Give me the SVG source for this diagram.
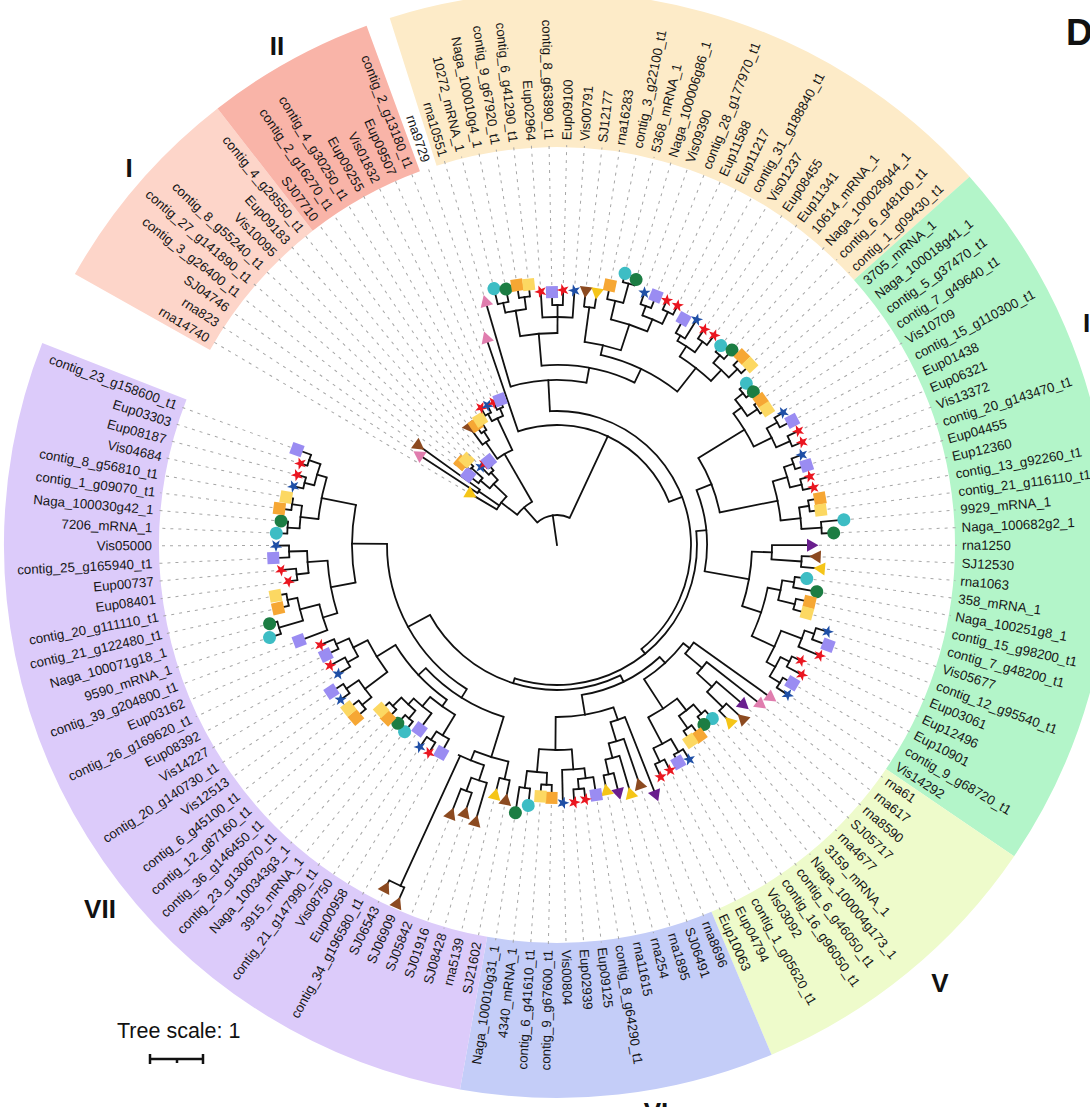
<svg xmlns="http://www.w3.org/2000/svg" xmlns:xlink="http://www.w3.org/1999/xlink" width="1090" height="1107" viewBox="0 0 1090 1107">
<style>
.t{font-family:"Liberation Sans",Arial,sans-serif;font-size:13.3px;fill:#161616;dominant-baseline:central}
.f{text-anchor:end}
.d{stroke:#a6a6a6;stroke-width:1;stroke-dasharray:3 5}
#connectors line,#connectors circle{stroke:#111;stroke-width:1.8;fill:none}
#connectors line{stroke-linecap:square}
.cy{fill:#3dbdc4}.gn{fill:#1c7d43}.or{fill:#f6a734}.ye{fill:#fcd862}.lv{fill:#9a8cf2}
.rs{fill:#ea1620}.bs{fill:#1f4fa6}.bt{fill:#8c4a20}.yt{fill:#f5c518}.pt{fill:#6a1f8e}.kt{fill:#e07dae}
.cl{font-family:"Liberation Sans",Arial,sans-serif;font-weight:bold;font-size:26px;fill:#111;text-anchor:middle}
</style>
<defs>
<circle id="ci" r="6.5"/>
<rect id="sq" x="-6" y="-6" width="12" height="12"/>
<polygon id="st" points="0,-6.5 1.53,-2.1 6.18,-2.01 2.47,0.8 3.82,5.26 0,2.6 -3.82,5.26 -2.47,0.8 -6.18,-2.01 -1.53,-2.1"/>
<polygon id="to" points="6.5,0 -5,-6.5 -5,6.5"/>
<polygon id="ti" points="-6.5,0 5,-6.5 5,6.5"/>
</defs>
<rect width="1090" height="1107" fill="#fff"/>
<g id="clade-bands" transform="translate(557 545)" fill="none" stroke-width="155">
<circle r="475.5" stroke="#fdd5c9" stroke-dasharray="189.22 4000" transform="rotate(209.33)"/>
<circle r="475.5" stroke="#f9b4a8" stroke-dasharray="147.14 4000" transform="rotate(232.13)"/>
<circle r="475.5" stroke="#fdebc8" stroke-dasharray="546.58 4000" transform="rotate(252.39)"/>
<circle r="475.5" stroke="#b3f5c9" stroke-dasharray="630.65 4000" transform="rotate(318.25)"/>
<circle r="475.5" stroke="#eefbcb" stroke-dasharray="273.29 4000" transform="rotate(394.24)"/>
<circle r="475.5" stroke="#c4cdf8" stroke-dasharray="273.29 4000" transform="rotate(427.17)"/>
<circle r="475.5" stroke="#dccbfa" stroke-dasharray="840.87 4000" transform="rotate(460.1)"/>
</g>
<g id="connectors" transform="translate(557 545)">
<line x1="0" x2="30" transform="rotate(261.84)"/>
<circle r="95" stroke-dasharray="4.2 9999" transform="rotate(213.13)"/>
<circle r="115" stroke-dasharray="5.08 9999" transform="rotate(220.73)"/>
<circle r="100" stroke-dasharray="6.63 9999" transform="rotate(218.2)"/>
<circle r="103" stroke-dasharray="4.55 9999" transform="rotate(228.33)"/>
<circle r="98" stroke-dasharray="6.5 9999" transform="rotate(225.8)"/>
<circle r="88" stroke-dasharray="11.67 9999" transform="rotate(220.1)"/>
<circle r="70" stroke-dasharray="16.25 9999" transform="rotate(210.6)"/>
<circle r="135" stroke-dasharray="5.97 9999" transform="rotate(235.93)"/>
<circle r="125" stroke-dasharray="8.29 9999" transform="rotate(233.4)"/>
<circle r="148" stroke-dasharray="6.54 9999" transform="rotate(241)"/>
<circle r="148" stroke-dasharray="6.54 9999" transform="rotate(246.06)"/>
<circle r="140" stroke-dasharray="12.38 9999" transform="rotate(242.26)"/>
<circle r="105" stroke-dasharray="17.41 9999" transform="rotate(235.3)"/>
<circle r="50" stroke-dasharray="19.89 9999" transform="rotate(217.25)"/>
<circle r="248" stroke-dasharray="10.96 9999" transform="rotate(256.19)"/>
<circle r="250" stroke-dasharray="11.05 9999" transform="rotate(261.26)"/>
<circle r="238" stroke-dasharray="21.04 9999" transform="rotate(257.46)"/>
<circle r="240" stroke-dasharray="10.61 9999" transform="rotate(268.86)"/>
<circle r="228" stroke-dasharray="30.24 9999" transform="rotate(266.33)"/>
<circle r="212" stroke-dasharray="37.49 9999" transform="rotate(259.99)"/>
<circle r="240" stroke-dasharray="10.61 9999" transform="rotate(276.46)"/>
<circle r="271" stroke-dasharray="11.98 9999" transform="rotate(284.06)"/>
<circle r="251" stroke-dasharray="16.65 9999" transform="rotate(281.52)"/>
<circle r="255" stroke-dasharray="11.27 9999" transform="rotate(289.12)"/>
<circle r="258" stroke-dasharray="11.41 9999" transform="rotate(294.19)"/>
<circle r="245" stroke-dasharray="21.66 9999" transform="rotate(290.39)"/>
<circle r="232" stroke-dasharray="38.46 9999" transform="rotate(283.42)"/>
<circle r="205" stroke-dasharray="37.38 9999" transform="rotate(277.73)"/>
<circle r="243" stroke-dasharray="10.74 9999" transform="rotate(299.26)"/>
<circle r="250" stroke-dasharray="11.05 9999" transform="rotate(304.32)"/>
<circle r="237" stroke-dasharray="20.96 9999" transform="rotate(300.52)"/>
<circle r="250" stroke-dasharray="11.05 9999" transform="rotate(309.39)"/>
<circle r="252" stroke-dasharray="11.14 9999" transform="rotate(314.45)"/>
<circle r="240" stroke-dasharray="21.22 9999" transform="rotate(310.65)"/>
<circle r="225" stroke-dasharray="39.79 9999" transform="rotate(303.06)"/>
<circle r="195" stroke-dasharray="85.67 9999" transform="rotate(282.95)"/>
<circle r="180" stroke-dasharray="95.73 9999" transform="rotate(265.06)"/>
<circle r="165" stroke-dasharray="76.71 9999" transform="rotate(253.66)"/>
<circle r="240" stroke-dasharray="10.61 9999" transform="rotate(319.52)"/>
<circle r="242" stroke-dasharray="10.7 9999" transform="rotate(324.59)"/>
<circle r="230" stroke-dasharray="20.34 9999" transform="rotate(320.79)"/>
<circle r="252" stroke-dasharray="11.14 9999" transform="rotate(329.65)"/>
<circle r="255" stroke-dasharray="11.27 9999" transform="rotate(334.72)"/>
<circle r="240" stroke-dasharray="21.22 9999" transform="rotate(330.92)"/>
<circle r="220" stroke-dasharray="38.9 9999" transform="rotate(323.32)"/>
<circle r="250" stroke-dasharray="11.05 9999" transform="rotate(339.78)"/>
<circle r="252" stroke-dasharray="11.14 9999" transform="rotate(344.85)"/>
<circle r="240" stroke-dasharray="21.22 9999" transform="rotate(341.05)"/>
<circle r="255" stroke-dasharray="11.27 9999" transform="rotate(349.92)"/>
<circle r="265" stroke-dasharray="11.72 9999" transform="rotate(354.98)"/>
<circle r="245" stroke-dasharray="21.66 9999" transform="rotate(351.18)"/>
<circle r="225" stroke-dasharray="39.79 9999" transform="rotate(343.58)"/>
<circle r="166" stroke-dasharray="58.71 9999" transform="rotate(328.39)"/>
<circle r="245" stroke-dasharray="10.83 9999" transform="rotate(362.58)"/>
<circle r="215" stroke-dasharray="14.26 9999" transform="rotate(360.05)"/>
<circle r="240" stroke-dasharray="10.61 9999" transform="rotate(367.65)"/>
<circle r="245" stroke-dasharray="10.83 9999" transform="rotate(372.71)"/>
<circle r="228" stroke-dasharray="20.16 9999" transform="rotate(368.91)"/>
<circle r="272" stroke-dasharray="12.02 9999" transform="rotate(377.78)"/>
<circle r="262" stroke-dasharray="17.38 9999" transform="rotate(379.05)"/>
<circle r="260" stroke-dasharray="11.49 9999" transform="rotate(385.38)"/>
<circle r="262" stroke-dasharray="11.58 9999" transform="rotate(390.44)"/>
<circle r="250" stroke-dasharray="22.1 9999" transform="rotate(386.64)"/>
<circle r="240" stroke-dasharray="34.48 9999" transform="rotate(380.94)"/>
<circle r="215" stroke-dasharray="51.09 9999" transform="rotate(371.45)"/>
<circle r="195" stroke-dasharray="55.49 9999" transform="rotate(361.95)"/>
<circle r="150" stroke-dasharray="82.69 9999" transform="rotate(338.52)"/>
<circle r="232" stroke-dasharray="10.26 9999" transform="rotate(403.11)"/>
<circle r="210" stroke-dasharray="13.93 9999" transform="rotate(400.58)"/>
<circle r="190" stroke-dasharray="14.7 9999" transform="rotate(398.04)"/>
<circle r="168" stroke-dasharray="13.93 9999" transform="rotate(395.51)"/>
<circle r="222" stroke-dasharray="9.81 9999" transform="rotate(408.17)"/>
<circle r="225" stroke-dasharray="9.95 9999" transform="rotate(413.24)"/>
<circle r="210" stroke-dasharray="18.57 9999" transform="rotate(409.44)"/>
<circle r="240" stroke-dasharray="10.61 9999" transform="rotate(418.31)"/>
<circle r="240" stroke-dasharray="10.61 9999" transform="rotate(423.37)"/>
<circle r="225" stroke-dasharray="19.89 9999" transform="rotate(419.57)"/>
<circle r="195" stroke-dasharray="34.48 9999" transform="rotate(411.97)"/>
<circle r="160" stroke-dasharray="53.49 9999" transform="rotate(397.88)"/>
<circle r="235" stroke-dasharray="10.39 9999" transform="rotate(436.04)"/>
<circle r="220" stroke-dasharray="14.59 9999" transform="rotate(433.5)"/>
<circle r="205" stroke-dasharray="15.86 9999" transform="rotate(430.97)"/>
<circle r="185" stroke-dasharray="15.33 9999" transform="rotate(428.44)"/>
<circle r="245" stroke-dasharray="10.83 9999" transform="rotate(443.64)"/>
<circle r="235" stroke-dasharray="15.59 9999" transform="rotate(441.1)"/>
<circle r="225" stroke-dasharray="22.38 9999" transform="rotate(443)"/>
<circle r="240" stroke-dasharray="10.61 9999" transform="rotate(451.24)"/>
<circle r="245" stroke-dasharray="10.83 9999" transform="rotate(456.3)"/>
<circle r="228" stroke-dasharray="20.16 9999" transform="rotate(452.5)"/>
<circle r="205" stroke-dasharray="32.85 9999" transform="rotate(445.85)"/>
<circle r="172" stroke-dasharray="58.93 9999" transform="rotate(430.81)"/>
<circle r="152" stroke-dasharray="87.98 9999" transform="rotate(407.46)"/>
<circle r="240" stroke-dasharray="10.61 9999" transform="rotate(461.37)"/>
<circle r="262" stroke-dasharray="11.58 9999" transform="rotate(468.97)"/>
<circle r="248" stroke-dasharray="16.45 9999" transform="rotate(466.43)"/>
<circle r="375" stroke-dasharray="16.58 9999" transform="rotate(474.03)"/>
<circle r="232" stroke-dasharray="28.21 9999" transform="rotate(468.33)"/>
<circle r="222" stroke-dasharray="35.58 9999" transform="rotate(462.63)"/>
<circle r="232" stroke-dasharray="10.26 9999" transform="rotate(481.63)"/>
<circle r="222" stroke-dasharray="14.72 9999" transform="rotate(479.1)"/>
<circle r="228" stroke-dasharray="10.08 9999" transform="rotate(489.23)"/>
<circle r="230" stroke-dasharray="10.17 9999" transform="rotate(494.3)"/>
<circle r="218" stroke-dasharray="19.28 9999" transform="rotate(490.5)"/>
<circle r="210" stroke-dasharray="23.21 9999" transform="rotate(486.7)"/>
<circle r="198" stroke-dasharray="30.64 9999" transform="rotate(481)"/>
<circle r="252" stroke-dasharray="11.14 9999" transform="rotate(499.36)"/>
<circle r="255" stroke-dasharray="11.27 9999" transform="rotate(504.43)"/>
<circle r="240" stroke-dasharray="21.22 9999" transform="rotate(500.63)"/>
<circle r="240" stroke-dasharray="10.61 9999" transform="rotate(509.49)"/>
<circle r="242" stroke-dasharray="10.7 9999" transform="rotate(514.56)"/>
<circle r="228" stroke-dasharray="20.16 9999" transform="rotate(510.76)"/>
<circle r="212" stroke-dasharray="37.49 9999" transform="rotate(503.16)"/>
<circle r="190" stroke-dasharray="75.6 9999" transform="rotate(485.43)"/>
<circle r="180" stroke-dasharray="93 9999" transform="rotate(467.23)"/>
<circle r="290" stroke-dasharray="12.82 9999" transform="rotate(522.16)"/>
<circle r="275" stroke-dasharray="12.16 9999" transform="rotate(527.23)"/>
<circle r="265" stroke-dasharray="23.43 9999" transform="rotate(523.43)"/>
<circle r="245" stroke-dasharray="27.08 9999" transform="rotate(519.63)"/>
<circle r="262" stroke-dasharray="11.58 9999" transform="rotate(532.29)"/>
<circle r="268" stroke-dasharray="11.85 9999" transform="rotate(537.36)"/>
<circle r="250" stroke-dasharray="22.1 9999" transform="rotate(533.56)"/>
<circle r="230" stroke-dasharray="53.38 9999" transform="rotate(522.79)"/>
<circle r="270" stroke-dasharray="11.94 9999" transform="rotate(542.42)"/>
<circle r="268" stroke-dasharray="11.85 9999" transform="rotate(547.49)"/>
<circle r="258" stroke-dasharray="22.81 9999" transform="rotate(543.69)"/>
<circle r="260" stroke-dasharray="11.49 9999" transform="rotate(552.56)"/>
<circle r="262" stroke-dasharray="11.58 9999" transform="rotate(557.62)"/>
<circle r="250" stroke-dasharray="22.1 9999" transform="rotate(553.82)"/>
<circle r="240" stroke-dasharray="42.44 9999" transform="rotate(546.22)"/>
<circle r="205" stroke-dasharray="78.17 9999" transform="rotate(529.44)"/>
<circle r="170" stroke-dasharray="173.09 9999" transform="rotate(482.03)"/>
<circle r="145" stroke-dasharray="220.55 9999" transform="rotate(424.05)"/>
<circle r="140" stroke-dasharray="276.88 9999" transform="rotate(354.31)"/>
<circle r="134" stroke-dasharray="336.73 9999" transform="rotate(266.98)"/>
<circle r="120" stroke-dasharray="183.97 9999" transform="rotate(251.13)"/>
<circle r="30" stroke-dasharray="34.77 9999" transform="rotate(228.65)"/>
<line x1="70" x2="95" transform="rotate(214.4)"/>
<line x1="100" x2="115" transform="rotate(222)"/>
<line x1="88" x2="100" transform="rotate(220.1)"/>
<line x1="98" x2="103" transform="rotate(229.6)"/>
<line x1="88" x2="98" transform="rotate(227.7)"/>
<line x1="70" x2="88" transform="rotate(223.9)"/>
<line x1="50" x2="70" transform="rotate(217.25)"/>
<line x1="125" x2="135" transform="rotate(237.2)"/>
<line x1="105" x2="125" transform="rotate(235.3)"/>
<line x1="140" x2="148" transform="rotate(242.26)"/>
<line x1="140" x2="148" transform="rotate(247.33)"/>
<line x1="105" x2="140" transform="rotate(244.8)"/>
<line x1="50" x2="105" transform="rotate(240.05)"/>
<line x1="30" x2="50" transform="rotate(228.65)"/>
<line x1="238" x2="248" transform="rotate(257.46)"/>
<line x1="238" x2="250" transform="rotate(262.53)"/>
<line x1="212" x2="238" transform="rotate(259.99)"/>
<line x1="228" x2="240" transform="rotate(270.13)"/>
<line x1="212" x2="228" transform="rotate(270.13)"/>
<line x1="180" x2="212" transform="rotate(265.06)"/>
<line x1="205" x2="240" transform="rotate(277.73)"/>
<line x1="251" x2="271" transform="rotate(285.32)"/>
<line x1="232" x2="251" transform="rotate(283.42)"/>
<line x1="245" x2="255" transform="rotate(290.39)"/>
<line x1="245" x2="258" transform="rotate(295.46)"/>
<line x1="232" x2="245" transform="rotate(292.92)"/>
<line x1="205" x2="232" transform="rotate(288.17)"/>
<line x1="195" x2="205" transform="rotate(282.95)"/>
<line x1="237" x2="243" transform="rotate(300.52)"/>
<line x1="237" x2="250" transform="rotate(305.59)"/>
<line x1="225" x2="237" transform="rotate(303.06)"/>
<line x1="240" x2="250" transform="rotate(310.65)"/>
<line x1="240" x2="252" transform="rotate(315.72)"/>
<line x1="225" x2="240" transform="rotate(313.19)"/>
<line x1="195" x2="225" transform="rotate(308.12)"/>
<line x1="180" x2="195" transform="rotate(295.53)"/>
<line x1="165" x2="180" transform="rotate(280.3)"/>
<line x1="134" x2="165" transform="rotate(266.98)"/>
<line x1="230" x2="240" transform="rotate(320.79)"/>
<line x1="230" x2="242" transform="rotate(325.85)"/>
<line x1="220" x2="230" transform="rotate(323.32)"/>
<line x1="240" x2="252" transform="rotate(330.92)"/>
<line x1="240" x2="255" transform="rotate(335.98)"/>
<line x1="220" x2="240" transform="rotate(333.45)"/>
<line x1="166" x2="220" transform="rotate(328.39)"/>
<line x1="240" x2="250" transform="rotate(341.05)"/>
<line x1="240" x2="252" transform="rotate(346.12)"/>
<line x1="225" x2="240" transform="rotate(343.58)"/>
<line x1="245" x2="255" transform="rotate(351.18)"/>
<line x1="245" x2="265" transform="rotate(356.25)"/>
<line x1="225" x2="245" transform="rotate(353.72)"/>
<line x1="166" x2="225" transform="rotate(348.65)"/>
<line x1="150" x2="166" transform="rotate(338.52)"/>
<line x1="215" x2="245" transform="rotate(363.85)"/>
<line x1="195" x2="215" transform="rotate(361.95)"/>
<line x1="228" x2="240" transform="rotate(368.91)"/>
<line x1="228" x2="245" transform="rotate(373.98)"/>
<line x1="215" x2="228" transform="rotate(371.45)"/>
<line x1="262" x2="272" transform="rotate(379.05)"/>
<line x1="240" x2="262" transform="rotate(380.94)"/>
<line x1="250" x2="260" transform="rotate(386.64)"/>
<line x1="250" x2="262" transform="rotate(391.71)"/>
<line x1="240" x2="250" transform="rotate(389.18)"/>
<line x1="215" x2="240" transform="rotate(385.06)"/>
<line x1="195" x2="215" transform="rotate(378.25)"/>
<line x1="150" x2="195" transform="rotate(370.1)"/>
<line x1="140" x2="150" transform="rotate(354.31)"/>
<line x1="210" x2="232" transform="rotate(404.38)"/>
<line x1="190" x2="210" transform="rotate(402.48)"/>
<line x1="168" x2="190" transform="rotate(400.26)"/>
<line x1="160" x2="168" transform="rotate(397.88)"/>
<line x1="210" x2="222" transform="rotate(409.44)"/>
<line x1="210" x2="225" transform="rotate(414.51)"/>
<line x1="195" x2="210" transform="rotate(411.97)"/>
<line x1="225" x2="240" transform="rotate(419.57)"/>
<line x1="225" x2="240" transform="rotate(424.64)"/>
<line x1="195" x2="225" transform="rotate(422.11)"/>
<line x1="160" x2="195" transform="rotate(417.04)"/>
<line x1="152" x2="160" transform="rotate(407.46)"/>
<line x1="220" x2="235" transform="rotate(437.3)"/>
<line x1="205" x2="220" transform="rotate(435.4)"/>
<line x1="185" x2="205" transform="rotate(433.19)"/>
<line x1="172" x2="185" transform="rotate(430.81)"/>
<line x1="235" x2="245" transform="rotate(444.9)"/>
<line x1="225" x2="235" transform="rotate(443)"/>
<line x1="205" x2="225" transform="rotate(445.85)"/>
<line x1="228" x2="240" transform="rotate(452.5)"/>
<line x1="228" x2="245" transform="rotate(457.57)"/>
<line x1="205" x2="228" transform="rotate(455.04)"/>
<line x1="172" x2="205" transform="rotate(450.44)"/>
<line x1="152" x2="172" transform="rotate(440.63)"/>
<line x1="145" x2="152" transform="rotate(424.05)"/>
<line x1="222" x2="240" transform="rotate(462.63)"/>
<line x1="248" x2="262" transform="rotate(470.23)"/>
<line x1="232" x2="248" transform="rotate(468.33)"/>
<line x1="232" x2="375" transform="rotate(474.67)"/>
<line x1="222" x2="232" transform="rotate(471.82)"/>
<line x1="180" x2="222" transform="rotate(467.23)"/>
<line x1="222" x2="232" transform="rotate(482.9)"/>
<line x1="198" x2="222" transform="rotate(481)"/>
<line x1="218" x2="228" transform="rotate(490.5)"/>
<line x1="218" x2="230" transform="rotate(495.56)"/>
<line x1="210" x2="218" transform="rotate(493.03)"/>
<line x1="198" x2="210" transform="rotate(489.86)"/>
<line x1="190" x2="198" transform="rotate(485.43)"/>
<line x1="240" x2="252" transform="rotate(500.63)"/>
<line x1="240" x2="255" transform="rotate(505.7)"/>
<line x1="212" x2="240" transform="rotate(503.16)"/>
<line x1="228" x2="240" transform="rotate(510.76)"/>
<line x1="228" x2="242" transform="rotate(515.83)"/>
<line x1="212" x2="228" transform="rotate(513.29)"/>
<line x1="190" x2="212" transform="rotate(508.23)"/>
<line x1="180" x2="190" transform="rotate(496.83)"/>
<line x1="170" x2="180" transform="rotate(482.03)"/>
<line x1="265" x2="290" transform="rotate(523.43)"/>
<line x1="265" x2="275" transform="rotate(528.49)"/>
<line x1="245" x2="265" transform="rotate(525.96)"/>
<line x1="230" x2="245" transform="rotate(522.79)"/>
<line x1="250" x2="262" transform="rotate(533.56)"/>
<line x1="250" x2="268" transform="rotate(538.62)"/>
<line x1="230" x2="250" transform="rotate(536.09)"/>
<line x1="205" x2="230" transform="rotate(529.44)"/>
<line x1="258" x2="270" transform="rotate(543.69)"/>
<line x1="258" x2="268" transform="rotate(548.76)"/>
<line x1="240" x2="258" transform="rotate(546.22)"/>
<line x1="250" x2="260" transform="rotate(553.82)"/>
<line x1="250" x2="262" transform="rotate(558.89)"/>
<line x1="240" x2="250" transform="rotate(556.36)"/>
<line x1="205" x2="240" transform="rotate(551.29)"/>
<line x1="170" x2="205" transform="rotate(540.37)"/>
<line x1="145" x2="170" transform="rotate(511.2)"/>
<line x1="140" x2="145" transform="rotate(467.62)"/>
<line x1="134" x2="140" transform="rotate(410.96)"/>
<line x1="120" x2="134" transform="rotate(338.97)"/>
<line x1="30" x2="120" transform="rotate(295.05)"/>
<line x1="70" x2="100" transform="rotate(210.6)"/>
<line x1="95" x2="165" transform="rotate(213.13)"/>
<line x1="95" x2="170" transform="rotate(215.67)"/>
<line x1="100" x2="113" transform="rotate(218.2)"/>
<line x1="115" x2="126" transform="rotate(220.73)"/>
<line x1="115" x2="124" transform="rotate(223.27)"/>
<line x1="98" x2="109" transform="rotate(225.8)"/>
<line x1="103" x2="109" transform="rotate(228.33)"/>
<line x1="103" x2="108" transform="rotate(230.86)"/>
<line x1="125" x2="146" transform="rotate(233.4)"/>
<line x1="135" x2="145" transform="rotate(235.93)"/>
<line x1="135" x2="147" transform="rotate(238.46)"/>
<line x1="148" x2="157" transform="rotate(241)"/>
<line x1="148" x2="156" transform="rotate(243.53)"/>
<line x1="148" x2="156" transform="rotate(246.06)"/>
<line x1="148" x2="156" transform="rotate(248.6)"/>
<line x1="120" x2="219" transform="rotate(251.13)"/>
<line x1="165" x2="254" transform="rotate(253.66)"/>
<line x1="248" x2="264" transform="rotate(256.19)"/>
<line x1="248" x2="261" transform="rotate(258.73)"/>
<line x1="250" x2="263" transform="rotate(261.26)"/>
<line x1="250" x2="262" transform="rotate(263.79)"/>
<line x1="228" x2="254" transform="rotate(266.33)"/>
<line x1="240" x2="253" transform="rotate(268.86)"/>
<line x1="240" x2="255" transform="rotate(271.39)"/>
<line x1="228" x2="255" transform="rotate(273.93)"/>
<line x1="240" x2="255" transform="rotate(276.46)"/>
<line x1="240" x2="255" transform="rotate(278.99)"/>
<line x1="251" x2="265" transform="rotate(281.52)"/>
<line x1="271" x2="280" transform="rotate(284.06)"/>
<line x1="271" x2="277" transform="rotate(286.59)"/>
<line x1="255" x2="267" transform="rotate(289.12)"/>
<line x1="255" x2="268" transform="rotate(291.66)"/>
<line x1="258" x2="268" transform="rotate(294.19)"/>
<line x1="258" x2="268" transform="rotate(296.72)"/>
<line x1="243" x2="259" transform="rotate(299.26)"/>
<line x1="243" x2="265" transform="rotate(301.79)"/>
<line x1="250" x2="261" transform="rotate(304.32)"/>
<line x1="250" x2="262" transform="rotate(306.85)"/>
<line x1="250" x2="258" transform="rotate(309.39)"/>
<line x1="250" x2="262" transform="rotate(311.92)"/>
<line x1="252" x2="264" transform="rotate(314.45)"/>
<line x1="252" x2="264" transform="rotate(316.99)"/>
<line x1="240" x2="249" transform="rotate(319.52)"/>
<line x1="240" x2="249" transform="rotate(322.05)"/>
<line x1="242" x2="250" transform="rotate(324.59)"/>
<line x1="242" x2="250" transform="rotate(327.12)"/>
<line x1="252" x2="262" transform="rotate(329.65)"/>
<line x1="252" x2="266" transform="rotate(332.18)"/>
<line x1="255" x2="267" transform="rotate(334.72)"/>
<line x1="255" x2="266" transform="rotate(337.25)"/>
<line x1="250" x2="261" transform="rotate(339.78)"/>
<line x1="250" x2="262" transform="rotate(342.32)"/>
<line x1="252" x2="262" transform="rotate(344.85)"/>
<line x1="252" x2="263" transform="rotate(347.38)"/>
<line x1="255" x2="267" transform="rotate(349.92)"/>
<line x1="255" x2="266" transform="rotate(352.45)"/>
<line x1="265" x2="288" transform="rotate(354.98)"/>
<line x1="265" x2="277" transform="rotate(357.51)"/>
<line x1="215" x2="255" transform="rotate(360.05)"/>
<line x1="245" x2="259" transform="rotate(362.58)"/>
<line x1="245" x2="264" transform="rotate(365.11)"/>
<line x1="240" x2="252" transform="rotate(367.65)"/>
<line x1="240" x2="264" transform="rotate(370.18)"/>
<line x1="245" x2="259" transform="rotate(372.71)"/>
<line x1="245" x2="259" transform="rotate(375.25)"/>
<line x1="272" x2="284" transform="rotate(377.78)"/>
<line x1="272" x2="289" transform="rotate(380.31)"/>
<line x1="262" x2="285" transform="rotate(382.84)"/>
<line x1="260" x2="270" transform="rotate(385.38)"/>
<line x1="260" x2="277" transform="rotate(387.91)"/>
<line x1="262" x2="273" transform="rotate(390.44)"/>
<line x1="262" x2="275" transform="rotate(392.98)"/>
<line x1="168" x2="263" transform="rotate(395.51)"/>
<line x1="190" x2="259" transform="rotate(398.04)"/>
<line x1="210" x2="246" transform="rotate(400.58)"/>
<line x1="232" x2="254" transform="rotate(403.11)"/>
<line x1="232" x2="247" transform="rotate(405.64)"/>
<line x1="222" x2="233" transform="rotate(408.17)"/>
<line x1="222" x2="232" transform="rotate(410.71)"/>
<line x1="225" x2="238" transform="rotate(413.24)"/>
<line x1="225" x2="237" transform="rotate(415.77)"/>
<line x1="240" x2="252" transform="rotate(418.31)"/>
<line x1="240" x2="249" transform="rotate(420.84)"/>
<line x1="240" x2="252" transform="rotate(423.37)"/>
<line x1="240" x2="254" transform="rotate(425.91)"/>
<line x1="185" x2="269" transform="rotate(428.44)"/>
<line x1="205" x2="253" transform="rotate(430.97)"/>
<line x1="220" x2="259" transform="rotate(433.5)"/>
<line x1="235" x2="256" transform="rotate(436.04)"/>
<line x1="235" x2="250" transform="rotate(438.57)"/>
<line x1="235" x2="253" transform="rotate(441.1)"/>
<line x1="245" x2="256" transform="rotate(443.64)"/>
<line x1="245" x2="258" transform="rotate(446.17)"/>
<line x1="225" x2="258" transform="rotate(448.7)"/>
<line x1="240" x2="253" transform="rotate(451.24)"/>
<line x1="240" x2="252" transform="rotate(453.77)"/>
<line x1="245" x2="262" transform="rotate(456.3)"/>
<line x1="245" x2="271" transform="rotate(458.83)"/>
<line x1="240" x2="260" transform="rotate(461.37)"/>
<line x1="240" x2="257" transform="rotate(463.9)"/>
<line x1="248" x2="288" transform="rotate(466.43)"/>
<line x1="262" x2="283" transform="rotate(468.97)"/>
<line x1="262" x2="289" transform="rotate(471.5)"/>
<line x1="375" x2="392" transform="rotate(474.03)"/>
<line x1="375" x2="383" transform="rotate(476.57)"/>
<line x1="222" x2="238" transform="rotate(479.1)"/>
<line x1="232" x2="244" transform="rotate(481.63)"/>
<line x1="232" x2="244" transform="rotate(484.16)"/>
<line x1="210" x2="230" transform="rotate(486.7)"/>
<line x1="228" x2="241" transform="rotate(489.23)"/>
<line x1="228" x2="239" transform="rotate(491.76)"/>
<line x1="230" x2="242" transform="rotate(494.3)"/>
<line x1="230" x2="241" transform="rotate(496.83)"/>
<line x1="252" x2="265" transform="rotate(499.36)"/>
<line x1="252" x2="265" transform="rotate(501.9)"/>
<line x1="255" x2="266" transform="rotate(504.43)"/>
<line x1="255" x2="269" transform="rotate(506.96)"/>
<line x1="240" x2="254" transform="rotate(509.49)"/>
<line x1="240" x2="257" transform="rotate(512.03)"/>
<line x1="242" x2="256" transform="rotate(514.56)"/>
<line x1="242" x2="257" transform="rotate(517.09)"/>
<line x1="245" x2="275" transform="rotate(519.63)"/>
<line x1="290" x2="302" transform="rotate(522.16)"/>
<line x1="290" x2="298" transform="rotate(524.69)"/>
<line x1="275" x2="286" transform="rotate(527.23)"/>
<line x1="275" x2="286" transform="rotate(529.76)"/>
<line x1="262" x2="271" transform="rotate(532.29)"/>
<line x1="262" x2="277" transform="rotate(534.82)"/>
<line x1="268" x2="284" transform="rotate(537.36)"/>
<line x1="268" x2="281" transform="rotate(539.89)"/>
<line x1="270" x2="281" transform="rotate(542.42)"/>
<line x1="270" x2="277" transform="rotate(544.96)"/>
<line x1="268" x2="280" transform="rotate(547.49)"/>
<line x1="268" x2="275" transform="rotate(550.02)"/>
<line x1="260" x2="270" transform="rotate(552.56)"/>
<line x1="260" x2="269" transform="rotate(555.09)"/>
<line x1="262" x2="269" transform="rotate(557.62)"/>
<line x1="262" x2="277" transform="rotate(560.15)"/>
</g>
<g id="leaves" transform="translate(557 545)">
<g id="n0" transform="rotate(210.6)"><line class="d" x1="107" x2="400"/><use href="#ti" x="100" class="yt"/><text class="t f" x="405" transform="rotate(180 405 0)">rna14740</text></g>
<g id="n1" transform="rotate(213.13)"><line class="d" x1="172" x2="400"/><use href="#to" x="165" class="kt"/><text class="t f" x="405" transform="rotate(180 405 0)">rna823</text></g>
<g id="n2" transform="rotate(215.67)"><line class="d" x1="177" x2="400"/><use href="#ti" x="170" class="bt"/><text class="t f" x="405" transform="rotate(180 405 0)">SJ04746</text></g>
<g id="n3" transform="rotate(218.2)"><line class="d" x1="120" x2="400"/><use href="#sq" x="113" class="lv"/><text class="t f" x="405" transform="rotate(180 405 0)">contig_3_g26400_t1</text></g>
<g id="n4" transform="rotate(220.73)"><line class="d" x1="133" x2="400"/><use href="#sq" x="126" class="or"/><text class="t f" x="405" transform="rotate(180 405 0)">contig_27_g141890_t1</text></g>
<g id="n5" transform="rotate(223.27)"><line class="d" x1="131" x2="400"/><use href="#sq" x="124" class="ye"/><text class="t f" x="405" transform="rotate(180 405 0)">contig_8_g55240_t1</text></g>
<g id="n6" transform="rotate(225.8)"><line class="d" x1="116" x2="400"/><use href="#st" x="109" class="bs"/><text class="t f" x="405" transform="rotate(180 405 0)">Vis10095</text></g>
<g id="n7" transform="rotate(228.33)"><line class="d" x1="116" x2="400"/><use href="#st" x="109" class="rs"/><text class="t f" x="405" transform="rotate(180 405 0)">Eup09183</text></g>
<g id="n8" transform="rotate(230.86)"><line class="d" x1="115" x2="400"/><use href="#sq" x="108" class="lv"/><text class="t f" x="405" transform="rotate(180 405 0)">contig_4_g28550_t1</text></g>
<g id="n9" transform="rotate(233.4)"><line class="d" x1="153" x2="400"/><use href="#ti" x="146" class="bt"/><text class="t f" x="405" transform="rotate(180 405 0)">SJ07710</text></g>
<g id="n10" transform="rotate(235.93)"><line class="d" x1="152" x2="400"/><use href="#sq" x="145" class="or"/><text class="t f" x="405" transform="rotate(180 405 0)">contig_2_g16270_t1</text></g>
<g id="n11" transform="rotate(238.46)"><line class="d" x1="154" x2="400"/><use href="#sq" x="147" class="ye"/><text class="t f" x="405" transform="rotate(180 405 0)">contig_4_g30250_t1</text></g>
<g id="n12" transform="rotate(241)"><line class="d" x1="164" x2="400"/><use href="#st" x="157" class="rs"/><text class="t f" x="405" transform="rotate(180 405 0)">Eup09255</text></g>
<g id="n13" transform="rotate(243.53)"><line class="d" x1="163" x2="400"/><use href="#st" x="156" class="bs"/><text class="t f" x="405" transform="rotate(180 405 0)">Vis01832</text></g>
<g id="n14" transform="rotate(246.06)"><line class="d" x1="163" x2="400"/><use href="#st" x="156" class="rs"/><text class="t f" x="405" transform="rotate(180 405 0)">Eup09507</text></g>
<g id="n15" transform="rotate(248.6)"><line class="d" x1="163" x2="400"/><use href="#sq" x="156" class="lv"/><text class="t f" x="405" transform="rotate(180 405 0)">contig_2_g13180_t1</text></g>
<g id="n16" transform="rotate(251.13)"><line class="d" x1="226" x2="400"/><use href="#to" x="219" class="kt"/><text class="t f" x="405" transform="rotate(180 405 0)">rna9729</text></g>
<g id="n17" transform="rotate(253.66)"><line class="d" x1="261" x2="400"/><use href="#to" x="254" class="kt"/><text class="t f" x="405" transform="rotate(180 405 0)">rna10551</text></g>
<g id="n18" transform="rotate(256.19)"><line class="d" x1="271" x2="400"/><use href="#ci" x="264" class="cy"/><text class="t f" x="405" transform="rotate(180 405 0)">10272_mRNA_1</text></g>
<g id="n19" transform="rotate(258.73)"><line class="d" x1="268" x2="400"/><use href="#ci" x="261" class="gn"/><text class="t f" x="405" transform="rotate(180 405 0)">Naga_100010g4_1</text></g>
<g id="n20" transform="rotate(261.26)"><line class="d" x1="270" x2="400"/><use href="#sq" x="263" class="or"/><text class="t f" x="405" transform="rotate(180 405 0)">contig_9_g67920_t1</text></g>
<g id="n21" transform="rotate(263.79)"><line class="d" x1="269" x2="400"/><use href="#sq" x="262" class="ye"/><text class="t f" x="405" transform="rotate(180 405 0)">contig_6_g41290_t1</text></g>
<g id="n22" transform="rotate(266.33)"><line class="d" x1="261" x2="400"/><use href="#st" x="254" class="rs"/><text class="t f" x="405" transform="rotate(180 405 0)">Eup02964</text></g>
<g id="n23" transform="rotate(268.86)"><line class="d" x1="260" x2="400"/><use href="#sq" x="253" class="lv"/><text class="t f" x="405" transform="rotate(180 405 0)">contig_8_g63890_t1</text></g>
<g id="n24" transform="rotate(271.39)"><line class="d" x1="262" x2="400"/><use href="#st" x="255" class="rs"/><text class="t" x="405">Eup09100</text></g>
<g id="n25" transform="rotate(273.93)"><line class="d" x1="262" x2="400"/><use href="#st" x="255" class="bs"/><text class="t" x="405">Vis00791</text></g>
<g id="n26" transform="rotate(276.46)"><line class="d" x1="262" x2="400"/><use href="#ti" x="255" class="bt"/><text class="t" x="405">SJ12177</text></g>
<g id="n27" transform="rotate(278.99)"><line class="d" x1="262" x2="400"/><use href="#ti" x="255" class="yt"/><text class="t" x="405">rna16283</text></g>
<g id="n28" transform="rotate(281.52)"><line class="d" x1="272" x2="400"/><use href="#sq" x="265" class="or"/><text class="t" x="405">contig_3_g22100_t1</text></g>
<g id="n29" transform="rotate(284.06)"><line class="d" x1="287" x2="400"/><use href="#ci" x="280" class="cy"/><text class="t" x="405">5368_mRNA_1</text></g>
<g id="n30" transform="rotate(286.59)"><line class="d" x1="284" x2="400"/><use href="#ci" x="277" class="gn"/><text class="t" x="405">Naga_100006g86_1</text></g>
<g id="n31" transform="rotate(289.12)"><line class="d" x1="274" x2="400"/><use href="#st" x="267" class="bs"/><text class="t" x="405">Vis09390</text></g>
<g id="n32" transform="rotate(291.66)"><line class="d" x1="275" x2="400"/><use href="#sq" x="268" class="lv"/><text class="t" x="405">contig_28_g177970_t1</text></g>
<g id="n33" transform="rotate(294.19)"><line class="d" x1="275" x2="400"/><use href="#st" x="268" class="rs"/><text class="t" x="405">Eup11588</text></g>
<g id="n34" transform="rotate(296.72)"><line class="d" x1="275" x2="400"/><use href="#st" x="268" class="rs"/><text class="t" x="405">Eup11217</text></g>
<g id="n35" transform="rotate(299.26)"><line class="d" x1="266" x2="400"/><use href="#sq" x="259" class="lv"/><text class="t" x="405">contig_31_g188840_t1</text></g>
<g id="n36" transform="rotate(301.79)"><line class="d" x1="272" x2="400"/><use href="#st" x="265" class="bs"/><text class="t" x="405">Vis01237</text></g>
<g id="n37" transform="rotate(304.32)"><line class="d" x1="268" x2="400"/><use href="#st" x="261" class="rs"/><text class="t" x="405">Eup08455</text></g>
<g id="n38" transform="rotate(306.85)"><line class="d" x1="269" x2="400"/><use href="#st" x="262" class="rs"/><text class="t" x="405">Eup11341</text></g>
<g id="n39" transform="rotate(309.39)"><line class="d" x1="265" x2="400"/><use href="#ci" x="258" class="cy"/><text class="t" x="405">10614_mRNA_1</text></g>
<g id="n40" transform="rotate(311.92)"><line class="d" x1="269" x2="400"/><use href="#ci" x="262" class="gn"/><text class="t" x="405">Naga_100028g44_1</text></g>
<g id="n41" transform="rotate(314.45)"><line class="d" x1="271" x2="400"/><use href="#sq" x="264" class="or"/><text class="t" x="405">contig_6_g48100_t1</text></g>
<g id="n42" transform="rotate(316.99)"><line class="d" x1="271" x2="400"/><use href="#sq" x="264" class="ye"/><text class="t" x="405">contig_1_g09430_t1</text></g>
<g id="n43" transform="rotate(319.52)"><line class="d" x1="256" x2="400"/><use href="#ci" x="249" class="cy"/><text class="t" x="405">3705_mRNA_1</text></g>
<g id="n44" transform="rotate(322.05)"><line class="d" x1="256" x2="400"/><use href="#ci" x="249" class="gn"/><text class="t" x="405">Naga_100018g41_1</text></g>
<g id="n45" transform="rotate(324.59)"><line class="d" x1="257" x2="400"/><use href="#sq" x="250" class="or"/><text class="t" x="405">contig_5_g37470_t1</text></g>
<g id="n46" transform="rotate(327.12)"><line class="d" x1="257" x2="400"/><use href="#sq" x="250" class="ye"/><text class="t" x="405">contig_7_g49640_t1</text></g>
<g id="n47" transform="rotate(329.65)"><line class="d" x1="269" x2="400"/><use href="#st" x="262" class="bs"/><text class="t" x="405">Vis10709</text></g>
<g id="n48" transform="rotate(332.18)"><line class="d" x1="273" x2="400"/><use href="#sq" x="266" class="lv"/><text class="t" x="405">contig_15_g110300_t1</text></g>
<g id="n49" transform="rotate(334.72)"><line class="d" x1="274" x2="400"/><use href="#st" x="267" class="rs"/><text class="t" x="405">Eup01438</text></g>
<g id="n50" transform="rotate(337.25)"><line class="d" x1="273" x2="400"/><use href="#st" x="266" class="rs"/><text class="t" x="405">Eup06321</text></g>
<g id="n51" transform="rotate(339.78)"><line class="d" x1="268" x2="400"/><use href="#st" x="261" class="bs"/><text class="t" x="405">Vis13372</text></g>
<g id="n52" transform="rotate(342.32)"><line class="d" x1="269" x2="400"/><use href="#sq" x="262" class="lv"/><text class="t" x="405">contig_20_g143470_t1</text></g>
<g id="n53" transform="rotate(344.85)"><line class="d" x1="269" x2="400"/><use href="#st" x="262" class="rs"/><text class="t" x="405">Eup04455</text></g>
<g id="n54" transform="rotate(347.38)"><line class="d" x1="270" x2="400"/><use href="#st" x="263" class="rs"/><text class="t" x="405">Eup12360</text></g>
<g id="n55" transform="rotate(349.92)"><line class="d" x1="274" x2="400"/><use href="#sq" x="267" class="or"/><text class="t" x="405">contig_13_g92260_t1</text></g>
<g id="n56" transform="rotate(352.45)"><line class="d" x1="273" x2="400"/><use href="#sq" x="266" class="ye"/><text class="t" x="405">contig_21_g116110_t1</text></g>
<g id="n57" transform="rotate(354.98)"><line class="d" x1="295" x2="400"/><use href="#ci" x="288" class="cy"/><text class="t" x="405">9929_mRNA_1</text></g>
<g id="n58" transform="rotate(357.51)"><line class="d" x1="284" x2="400"/><use href="#ci" x="277" class="gn"/><text class="t" x="405">Naga_100682g2_1</text></g>
<g id="n59" transform="rotate(360.05)"><line class="d" x1="262" x2="400"/><use href="#to" x="255" class="pt"/><text class="t" x="405">rna1250</text></g>
<g id="n60" transform="rotate(362.58)"><line class="d" x1="266" x2="400"/><use href="#ti" x="259" class="bt"/><text class="t" x="405">SJ12530</text></g>
<g id="n61" transform="rotate(365.11)"><line class="d" x1="271" x2="400"/><use href="#ti" x="264" class="yt"/><text class="t" x="405">rna1063</text></g>
<g id="n62" transform="rotate(367.65)"><line class="d" x1="259" x2="400"/><use href="#ci" x="252" class="cy"/><text class="t" x="405">358_mRNA_1</text></g>
<g id="n63" transform="rotate(370.18)"><line class="d" x1="271" x2="400"/><use href="#ci" x="264" class="gn"/><text class="t" x="405">Naga_100251g8_1</text></g>
<g id="n64" transform="rotate(372.71)"><line class="d" x1="266" x2="400"/><use href="#sq" x="259" class="or"/><text class="t" x="405">contig_15_g98200_t1</text></g>
<g id="n65" transform="rotate(375.25)"><line class="d" x1="266" x2="400"/><use href="#sq" x="259" class="ye"/><text class="t" x="405">contig_7_g48200_t1</text></g>
<g id="n66" transform="rotate(377.78)"><line class="d" x1="291" x2="400"/><use href="#st" x="284" class="bs"/><text class="t" x="405">Vis05677</text></g>
<g id="n67" transform="rotate(380.31)"><line class="d" x1="296" x2="400"/><use href="#sq" x="289" class="lv"/><text class="t" x="405">contig_12_g95540_t1</text></g>
<g id="n68" transform="rotate(382.84)"><line class="d" x1="292" x2="400"/><use href="#st" x="285" class="rs"/><text class="t" x="405">Eup03061</text></g>
<g id="n69" transform="rotate(385.38)"><line class="d" x1="277" x2="400"/><use href="#st" x="270" class="rs"/><text class="t" x="405">Eup12496</text></g>
<g id="n70" transform="rotate(387.91)"><line class="d" x1="284" x2="400"/><use href="#st" x="277" class="rs"/><text class="t" x="405">Eup10901</text></g>
<g id="n71" transform="rotate(390.44)"><line class="d" x1="280" x2="400"/><use href="#sq" x="273" class="lv"/><text class="t" x="405">contig_9_g68720_t1</text></g>
<g id="n72" transform="rotate(392.98)"><line class="d" x1="282" x2="400"/><use href="#st" x="275" class="bs"/><text class="t" x="405">Vis14292</text></g>
<g id="n73" transform="rotate(395.51)"><line class="d" x1="270" x2="400"/><use href="#to" x="263" class="kt"/><text class="t" x="405">rna61</text></g>
<g id="n74" transform="rotate(398.04)"><line class="d" x1="266" x2="400"/><use href="#to" x="259" class="kt"/><text class="t" x="405">rna617</text></g>
<g id="n75" transform="rotate(400.58)"><line class="d" x1="253" x2="400"/><use href="#to" x="246" class="pt"/><text class="t" x="405">rna8590</text></g>
<g id="n76" transform="rotate(403.11)"><line class="d" x1="261" x2="400"/><use href="#ti" x="254" class="bt"/><text class="t" x="405">SJ05717</text></g>
<g id="n77" transform="rotate(405.64)"><line class="d" x1="254" x2="400"/><use href="#ti" x="247" class="yt"/><text class="t" x="405">rna4677</text></g>
<g id="n78" transform="rotate(408.17)"><line class="d" x1="240" x2="400"/><use href="#ci" x="233" class="cy"/><text class="t" x="405">3159_mRNA_1</text></g>
<g id="n79" transform="rotate(410.71)"><line class="d" x1="239" x2="400"/><use href="#ci" x="232" class="gn"/><text class="t" x="405">Naga_100004g173_1</text></g>
<g id="n80" transform="rotate(413.24)"><line class="d" x1="245" x2="400"/><use href="#sq" x="238" class="or"/><text class="t" x="405">contig_6_g46050_t1</text></g>
<g id="n81" transform="rotate(415.77)"><line class="d" x1="244" x2="400"/><use href="#sq" x="237" class="ye"/><text class="t" x="405">contig_16_g96050_t1</text></g>
<g id="n82" transform="rotate(418.31)"><line class="d" x1="259" x2="400"/><use href="#st" x="252" class="bs"/><text class="t" x="405">Vis03092</text></g>
<g id="n83" transform="rotate(420.84)"><line class="d" x1="256" x2="400"/><use href="#sq" x="249" class="lv"/><text class="t" x="405">contig_1_g05620_t1</text></g>
<g id="n84" transform="rotate(423.37)"><line class="d" x1="259" x2="400"/><use href="#st" x="252" class="rs"/><text class="t" x="405">Eup04794</text></g>
<g id="n85" transform="rotate(425.91)"><line class="d" x1="261" x2="400"/><use href="#st" x="254" class="rs"/><text class="t" x="405">Eup10063</text></g>
<g id="n86" transform="rotate(428.44)"><line class="d" x1="276" x2="400"/><use href="#to" x="269" class="pt"/><text class="t" x="405">rna8696</text></g>
<g id="n87" transform="rotate(430.97)"><line class="d" x1="260" x2="400"/><use href="#ti" x="253" class="bt"/><text class="t" x="405">SJ06491</text></g>
<g id="n88" transform="rotate(433.5)"><line class="d" x1="266" x2="400"/><use href="#ti" x="259" class="yt"/><text class="t" x="405">rna1895</text></g>
<g id="n89" transform="rotate(436.04)"><line class="d" x1="263" x2="400"/><use href="#to" x="256" class="pt"/><text class="t" x="405">rna254</text></g>
<g id="n90" transform="rotate(438.57)"><line class="d" x1="257" x2="400"/><use href="#ti" x="250" class="yt"/><text class="t" x="405">rna11615</text></g>
<g id="n91" transform="rotate(441.1)"><line class="d" x1="260" x2="400"/><use href="#sq" x="253" class="lv"/><text class="t" x="405">contig_8_g64290_t1</text></g>
<g id="n92" transform="rotate(443.64)"><line class="d" x1="263" x2="400"/><use href="#st" x="256" class="rs"/><text class="t" x="405">Eup09125</text></g>
<g id="n93" transform="rotate(446.17)"><line class="d" x1="265" x2="400"/><use href="#st" x="258" class="rs"/><text class="t" x="405">Eup02939</text></g>
<g id="n94" transform="rotate(448.7)"><line class="d" x1="265" x2="400"/><use href="#st" x="258" class="bs"/><text class="t" x="405">Vis00804</text></g>
<g id="n95" transform="rotate(451.24)"><line class="d" x1="260" x2="400"/><use href="#sq" x="253" class="or"/><text class="t f" x="405" transform="rotate(180 405 0)">contig_9_g67600_t1</text></g>
<g id="n96" transform="rotate(453.77)"><line class="d" x1="259" x2="400"/><use href="#sq" x="252" class="ye"/><text class="t f" x="405" transform="rotate(180 405 0)">contig_6_g41610_t1</text></g>
<g id="n97" transform="rotate(456.3)"><line class="d" x1="269" x2="400"/><use href="#ci" x="262" class="cy"/><text class="t f" x="405" transform="rotate(180 405 0)">4340_mRNA_1</text></g>
<g id="n98" transform="rotate(458.83)"><line class="d" x1="278" x2="400"/><use href="#ci" x="271" class="gn"/><text class="t f" x="405" transform="rotate(180 405 0)">Naga_100010g31_1</text></g>
<g id="n99" transform="rotate(461.37)"><line class="d" x1="267" x2="400"/><use href="#ti" x="260" class="bt"/><text class="t f" x="405" transform="rotate(180 405 0)">SJ21602</text></g>
<g id="n100" transform="rotate(463.9)"><line class="d" x1="264" x2="400"/><use href="#ti" x="257" class="yt"/><text class="t f" x="405" transform="rotate(180 405 0)">rna5139</text></g>
<g id="n101" transform="rotate(466.43)"><line class="d" x1="295" x2="400"/><use href="#ti" x="288" class="bt"/><text class="t f" x="405" transform="rotate(180 405 0)">SJ08428</text></g>
<g id="n102" transform="rotate(468.97)"><line class="d" x1="290" x2="400"/><use href="#ti" x="283" class="bt"/><text class="t f" x="405" transform="rotate(180 405 0)">SJ01916</text></g>
<g id="n103" transform="rotate(471.5)"><line class="d" x1="296" x2="400"/><use href="#ti" x="289" class="bt"/><text class="t f" x="405" transform="rotate(180 405 0)">SJ05842</text></g>
<g id="n104" transform="rotate(474.03)"><use href="#ti" x="392" class="bt"/><text class="t f" x="405" transform="rotate(180 405 0)">SJ06909</text></g>
<g id="n105" transform="rotate(476.57)"><line class="d" x1="390" x2="400"/><use href="#ti" x="383" class="bt"/><text class="t f" x="405" transform="rotate(180 405 0)">SJ06543</text></g>
<g id="n106" transform="rotate(479.1)"><line class="d" x1="245" x2="400"/><use href="#sq" x="238" class="lv"/><text class="t f" x="405" transform="rotate(180 405 0)">contig_34_g196580_t1</text></g>
<g id="n107" transform="rotate(481.63)"><line class="d" x1="251" x2="400"/><use href="#st" x="244" class="rs"/><text class="t f" x="405" transform="rotate(180 405 0)">Eup00958</text></g>
<g id="n108" transform="rotate(484.16)"><line class="d" x1="251" x2="400"/><use href="#st" x="244" class="bs"/><text class="t f" x="405" transform="rotate(180 405 0)">Vis08750</text></g>
<g id="n109" transform="rotate(486.7)"><line class="d" x1="237" x2="400"/><use href="#sq" x="230" class="lv"/><text class="t f" x="405" transform="rotate(180 405 0)">contig_21_g147990_t1</text></g>
<g id="n110" transform="rotate(489.23)"><line class="d" x1="248" x2="400"/><use href="#ci" x="241" class="cy"/><text class="t f" x="405" transform="rotate(180 405 0)">3915_mRNA_1</text></g>
<g id="n111" transform="rotate(491.76)"><line class="d" x1="246" x2="400"/><use href="#ci" x="239" class="gn"/><text class="t f" x="405" transform="rotate(180 405 0)">Naga_100343g3_1</text></g>
<g id="n112" transform="rotate(494.3)"><line class="d" x1="249" x2="400"/><use href="#sq" x="242" class="or"/><text class="t f" x="405" transform="rotate(180 405 0)">contig_23_g130670_t1</text></g>
<g id="n113" transform="rotate(496.83)"><line class="d" x1="248" x2="400"/><use href="#sq" x="241" class="ye"/><text class="t f" x="405" transform="rotate(180 405 0)">contig_36_g146450_t1</text></g>
<g id="n114" transform="rotate(499.36)"><line class="d" x1="272" x2="400"/><use href="#sq" x="265" class="or"/><text class="t f" x="405" transform="rotate(180 405 0)">contig_12_g87160_t1</text></g>
<g id="n115" transform="rotate(501.9)"><line class="d" x1="272" x2="400"/><use href="#sq" x="265" class="ye"/><text class="t f" x="405" transform="rotate(180 405 0)">contig_6_g45100_t1</text></g>
<g id="n116" transform="rotate(504.43)"><line class="d" x1="273" x2="400"/><use href="#st" x="266" class="bs"/><text class="t f" x="405" transform="rotate(180 405 0)">Vis12513</text></g>
<g id="n117" transform="rotate(506.96)"><line class="d" x1="276" x2="400"/><use href="#sq" x="269" class="lv"/><text class="t f" x="405" transform="rotate(180 405 0)">contig_20_g140730_t1</text></g>
<g id="n118" transform="rotate(509.49)"><line class="d" x1="261" x2="400"/><use href="#st" x="254" class="bs"/><text class="t f" x="405" transform="rotate(180 405 0)">Vis14227</text></g>
<g id="n119" transform="rotate(512.03)"><line class="d" x1="264" x2="400"/><use href="#st" x="257" class="rs"/><text class="t f" x="405" transform="rotate(180 405 0)">Eup08392</text></g>
<g id="n120" transform="rotate(514.56)"><line class="d" x1="263" x2="400"/><use href="#sq" x="256" class="lv"/><text class="t f" x="405" transform="rotate(180 405 0)">contig_26_g169620_t1</text></g>
<g id="n121" transform="rotate(517.09)"><line class="d" x1="264" x2="400"/><use href="#st" x="257" class="rs"/><text class="t f" x="405" transform="rotate(180 405 0)">Eup03162</text></g>
<g id="n122" transform="rotate(519.63)"><line class="d" x1="282" x2="400"/><use href="#sq" x="275" class="lv"/><text class="t f" x="405" transform="rotate(180 405 0)">contig_39_g204800_t1</text></g>
<g id="n123" transform="rotate(522.16)"><line class="d" x1="309" x2="400"/><use href="#ci" x="302" class="cy"/><text class="t f" x="405" transform="rotate(180 405 0)">9590_mRNA_1</text></g>
<g id="n124" transform="rotate(524.69)"><line class="d" x1="305" x2="400"/><use href="#ci" x="298" class="gn"/><text class="t f" x="405" transform="rotate(180 405 0)">Naga_100071g18_1</text></g>
<g id="n125" transform="rotate(527.23)"><line class="d" x1="293" x2="400"/><use href="#sq" x="286" class="or"/><text class="t f" x="405" transform="rotate(180 405 0)">contig_21_g122480_t1</text></g>
<g id="n126" transform="rotate(529.76)"><line class="d" x1="293" x2="400"/><use href="#sq" x="286" class="ye"/><text class="t f" x="405" transform="rotate(180 405 0)">contig_20_g111110_t1</text></g>
<g id="n127" transform="rotate(532.29)"><line class="d" x1="278" x2="400"/><use href="#st" x="271" class="rs"/><text class="t f" x="405" transform="rotate(180 405 0)">Eup08401</text></g>
<g id="n128" transform="rotate(534.82)"><line class="d" x1="284" x2="400"/><use href="#st" x="277" class="rs"/><text class="t f" x="405" transform="rotate(180 405 0)">Eup00737</text></g>
<g id="n129" transform="rotate(537.36)"><line class="d" x1="291" x2="400"/><use href="#sq" x="284" class="lv"/><text class="t f" x="405" transform="rotate(180 405 0)">contig_25_g165940_t1</text></g>
<g id="n130" transform="rotate(539.89)"><line class="d" x1="288" x2="400"/><use href="#st" x="281" class="bs"/><text class="t f" x="405" transform="rotate(180 405 0)">Vis05000</text></g>
<g id="n131" transform="rotate(542.42)"><line class="d" x1="288" x2="400"/><use href="#ci" x="281" class="cy"/><text class="t f" x="405" transform="rotate(180 405 0)">7206_mRNA_1</text></g>
<g id="n132" transform="rotate(544.96)"><line class="d" x1="284" x2="400"/><use href="#ci" x="277" class="gn"/><text class="t f" x="405" transform="rotate(180 405 0)">Naga_100030g42_1</text></g>
<g id="n133" transform="rotate(547.49)"><line class="d" x1="287" x2="400"/><use href="#sq" x="280" class="or"/><text class="t f" x="405" transform="rotate(180 405 0)">contig_1_g09070_t1</text></g>
<g id="n134" transform="rotate(550.02)"><line class="d" x1="282" x2="400"/><use href="#sq" x="275" class="ye"/><text class="t f" x="405" transform="rotate(180 405 0)">contig_8_g56810_t1</text></g>
<g id="n135" transform="rotate(552.56)"><line class="d" x1="277" x2="400"/><use href="#st" x="270" class="bs"/><text class="t f" x="405" transform="rotate(180 405 0)">Vis04684</text></g>
<g id="n136" transform="rotate(555.09)"><line class="d" x1="276" x2="400"/><use href="#st" x="269" class="rs"/><text class="t f" x="405" transform="rotate(180 405 0)">Eup08187</text></g>
<g id="n137" transform="rotate(557.62)"><line class="d" x1="276" x2="400"/><use href="#st" x="269" class="rs"/><text class="t f" x="405" transform="rotate(180 405 0)">Eup03303</text></g>
<g id="n138" transform="rotate(560.15)"><line class="d" x1="284" x2="400"/><use href="#sq" x="277" class="lv"/><text class="t f" x="405" transform="rotate(180 405 0)">contig_23_g158600_t1</text></g>
</g>
<g id="clade-labels">
<text class="cl" x="129" y="177">I</text>
<text class="cl" x="277" y="55">II</text>
<text class="cl" x="1083" y="332" style="text-anchor:start">IV</text>
<text class="cl" x="940" y="992">V</text>
<text class="cl" x="656" y="1121">VI</text>
<text class="cl" x="100" y="918">VII</text>
<text x="1066" y="45" style="font-family:'Liberation Sans',Arial,sans-serif;font-weight:bold;font-size:37px;fill:#111">D</text>
</g>
<g id="scale">
<text x="117" y="1038" style="font-family:'Liberation Sans',Arial,sans-serif;font-size:21.5px;fill:#111">Tree scale: 1</text>
<path d="M150 1059H203M150 1054V1064M203 1054V1064M177 1059V1063" stroke="#111" stroke-width="2.5" fill="none"/>
</g>
</svg>
